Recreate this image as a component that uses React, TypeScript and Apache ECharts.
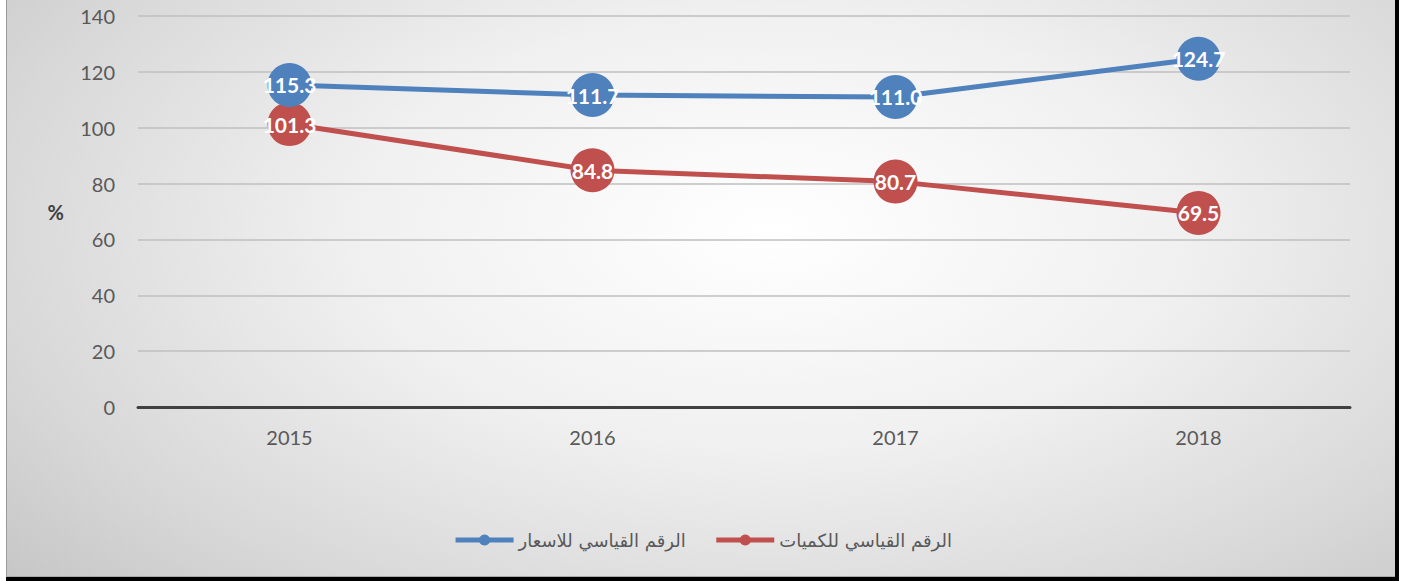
import React, { useEffect, useRef } from "react";
import * as echarts from "echarts";

const years = ["2015", "2016", "2017", "2018"];
const priceIndex = [115.3, 111.7, 111.0, 124.7];
const quantityIndex = [101.3, 84.8, 80.7, 69.5];
const priceName = "الرقم القياسي للاسعار";
const quantityName = "الرقم القياسي للكميات";

export default function App() {
  const ref = useRef<HTMLDivElement>(null);
  useEffect(() => {
    document.body.style.margin = "0";
    const chart = echarts.init(ref.current!, null, { renderer: "svg" });
    const labelCfg = {
      show: true,
      position: "inside",
      color: "#ffffff",
      fontFamily: "Lato",
      fontWeight: "bold",
      fontSize: 21,
      formatter: (p: any) => Number(p.value).toFixed(1),
    };
    chart.setOption({
      animation: false,
      backgroundColor: "transparent",
      grid: { left: 138, right: 55, top: 16, bottom: 174 },
      legend: {
        data: [priceName, quantityName],
        top: 526,
        left: "center",
        itemWidth: 58,
        itemHeight: 14,
        itemGap: 28,
        lineStyle: { width: 5 },
        textStyle: { fontFamily: "DejaVu Sans", fontSize: 18, color: "#595959" },
      },
      xAxis: {
        type: "category",
        data: years,
        boundaryGap: true,
        axisLine: { show: true, lineStyle: { color: "#404040", width: 3 } },
        axisTick: { show: false },
        axisLabel: { color: "#595959", fontFamily: "Lato", fontSize: 20, margin: 20 },
      },
      yAxis: {
        type: "value",
        min: 0,
        max: 140,
        interval: 20,
        name: "%",
        nameLocation: "middle",
        nameRotate: 0,
        nameGap: 74,
        nameTextStyle: { fontFamily: "Lato", fontWeight: "bold", fontSize: 20, color: "#404040" },
        axisLine: { show: false },
        axisTick: { show: false },
        axisLabel: { color: "#595959", fontFamily: "Lato", fontSize: 20, margin: 23 },
        splitLine: { lineStyle: { color: "#bfbfbf", width: 1.5 } },
      },
      series: [
        {
          name: priceName,
          type: "line",
          data: priceIndex,
          symbol: "circle",
          symbolSize: 44,
          color: "#4F81BD",
          lineStyle: { width: 5, color: "#4F81BD" },
          itemStyle: { color: "#4F81BD" },
          label: labelCfg,
          z: 3,
        },
        {
          name: quantityName,
          type: "line",
          data: quantityIndex,
          symbol: "circle",
          symbolSize: 44,
          color: "#C0504D",
          lineStyle: { width: 5, color: "#C0504D" },
          itemStyle: { color: "#C0504D" },
          label: labelCfg,
          z: 2,
        },
      ],
    });
    return () => chart.dispose();
  }, []);
  return (
    <div style={{ position: "relative", width: 1405, height: 581, background: "#ffffff", overflow: "hidden" }}>
      <div
        style={{
          position: "absolute",
          left: 6,
          top: 0,
          width: 1389,
          height: 577,
          boxSizing: "border-box",
          borderLeft: "1px solid #9a9a9a",
          borderBottom: "1px solid #a8a8a8",
          background: "radial-gradient(ellipse 75% 95% at 55% 40%, #ffffff 0%, #f0f0f0 40%, #d8d8d8 75%, #c4c4c4 100%)",
        }}
      />
      <div style={{ position: "absolute", left: 6, top: 577, width: 1393, height: 4, background: "#000" }} />
      <div style={{ position: "absolute", left: 1395, top: 0, width: 4, height: 581, background: "#000" }} />
      <div ref={ref} style={{ position: "absolute", left: 0, top: 0, width: 1405, height: 581 }} />
    </div>
  );
}
